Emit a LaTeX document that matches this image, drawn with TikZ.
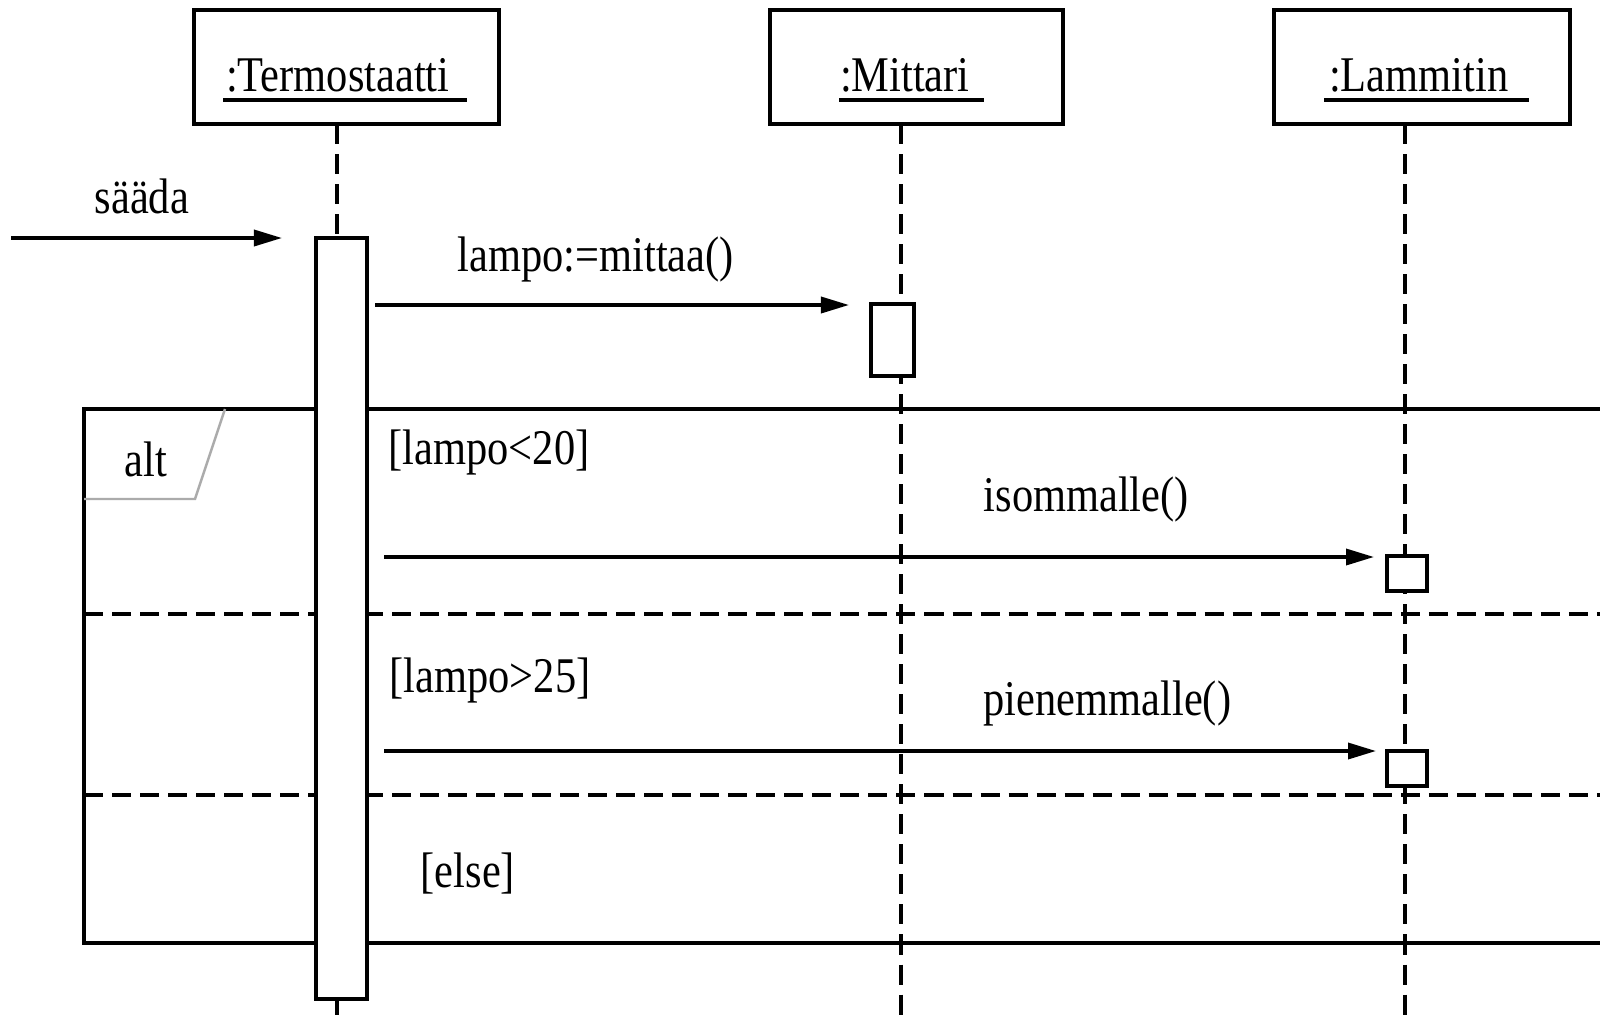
\documentclass[tikz,border=0pt]{standalone}
\usepackage{fontspec}
\setmainfont{Liberation Serif}[FakeStretch=0.85]
\usetikzlibrary{
  arrows.meta,
  calc
}
\tikzset{
  % For the object boxes at the top.
  object box/.style={
    draw,
    line width=1.1pt,
    fill=white,
    minimum width=#1,
    minimum height=1.14cm,
    inner sep=0pt},
%
  % For the object names inside the boxes.
  object name/.style={
    anchor=base west,
    inner sep=0pt,
    outer sep=0pt},
%
  % For the underline below an object name.
  name line/.style={
    line width=0.9pt},
%
  % For lifelines.
  lifeline/.style={
    dash pattern=on 0.2cm off 0.1cm,
    line width=1pt},
%
  % For activation bars.
  activation/.style={
    draw,
    fill=white,
    line width=1pt,
    inner sep=0pt,
    outer sep=0pt},
%
  % For messages.
  message/.style={
    line width=1pt,
    -{Triangle[length=0.28cm,width=0.16cm]}},
%
  % For message names and guards.
  msg text/.style={
    anchor=base west,
    inner sep=0pt},
%
  % For the combined fragment.
  fragment/.style={
    line width=1.1pt},
  fragment tag/.style={
    draw=black!33,
    line width=0.7pt},
  operand line/.style={
    dash pattern=on 0.19cm off 0.09cm,
    line width=1pt},
}
\begin{document}
\begin{tikzpicture}[x=0.01cm, y=-0.01cm, font=\fontsize{14.2}{17}\selectfont]
  \useasboundingbox (0,0) rectangle (1600,1018);

  % Frame of the alt fragment, open at the right.
  \coordinate (fragNE) at (1600,409);
  \coordinate (fragSW) at (84,943);
  \coordinate (fragSE) at (1600,943);
  \draw[fragment] (fragNE) -| (fragSW) -- (fragSE);

  \coordinate (sepA) at (84,614);
  \coordinate (sepAend) at (1600,614);
  \coordinate (sepB) at (84,795);
  \coordinate (sepBend) at (1600,795);
  \draw[operand line] (sepA) -- (sepAend);
  \draw[operand line] (sepB) -- (sepBend);

  \coordinate (tagA) at (84,499);
  \coordinate (tagB) at (195,499);
  \coordinate (tagC) at (225,409);
  \draw[fragment tag] (tagA) -- (tagB) -- (tagC);
  \node[msg text] (alttag) at (124,476) {alt};

  \foreach \obj/\x in {term/337, mit/901, lam/1405} {
    \coordinate (\obj top) at (\x,124);
    \coordinate (\obj end) at (\x,1018);
    \draw[lifeline] (\obj top) -- (\obj end);
  }

  \node[activation, minimum width=0.51cm, minimum height=7.61cm] (termact) at (341.5,618.5) {};
  \node[activation, minimum width=0.43cm, minimum height=0.72cm] (mitact) at (892.5,340) {};
  \node[activation, minimum width=0.40cm, minimum height=0.35cm] (lamactA) at (1407,573.5) {};
  \node[activation, minimum width=0.40cm, minimum height=0.35cm] (lamactB) at (1407,768.5) {};

  \node[object box=3.05cm] (termbox) at (346.5,67) {};
  \node[object box=2.93cm] (mitbox) at (916.5,67) {};
  \node[object box=2.96cm] (lambox) at (1422,67) {};

  \node[object name] (termname) at (226,91) {:Termostaatti\kern5pt};
  \node[object name] (mitname) at (840,91) {:Mittari\kern4pt};
  \node[object name] (lamname) at (1329,91) {:Lammitin\kern6pt};
  \draw[name line] ($(termname.base west)+(-3,9)$) -- ($(termname.base east)+(0,9)$);
  \draw[name line] ($(mitname.base west)+(-1,9)$) -- ($(mitname.base east)+(0,9)$);
  \draw[name line] ($(lamname.base west)+(-5,9)$) -- ($(lamname.base east)+(0,9)$);

  % Messages.
  \coordinate (saadastart) at (11,238);
  \coordinate (saadaend) at (282,238);
  \draw[message] (saadastart) -- (saadaend);
  \node[msg text] (saada) at (94,213) {sääda};

  \coordinate (mittaastart) at (375,305);
  \coordinate (mittaaend) at (849,305);
  \draw[message] (mittaastart) -- (mittaaend);
  \node[msg text] (mittaa) at (457,271) {lampo:=mittaa()};

  \coordinate (isostart) at (384,557);
  \coordinate (isoend) at (1374,557);
  \draw[message] (isostart) -- (isoend);
  \node[msg text] (isommalle) at (983,511) {isommalle()};

  \coordinate (pienistart) at (384,751);
  \coordinate (pieniend) at (1376,751);
  \draw[message] (pienistart) -- (pieniend);
  \node[msg text] (pienemmalle) at (983,715) {pienemmalle()};

  % Guards of the operands.
  \node[msg text] (guardA) at (388,464) {[lampo<20]};
  \node[msg text] (guardB) at (389,692) {[lampo>25]};
  \node[msg text] (guardC) at (420,887) {[else]};
\end{tikzpicture}
\end{document}
